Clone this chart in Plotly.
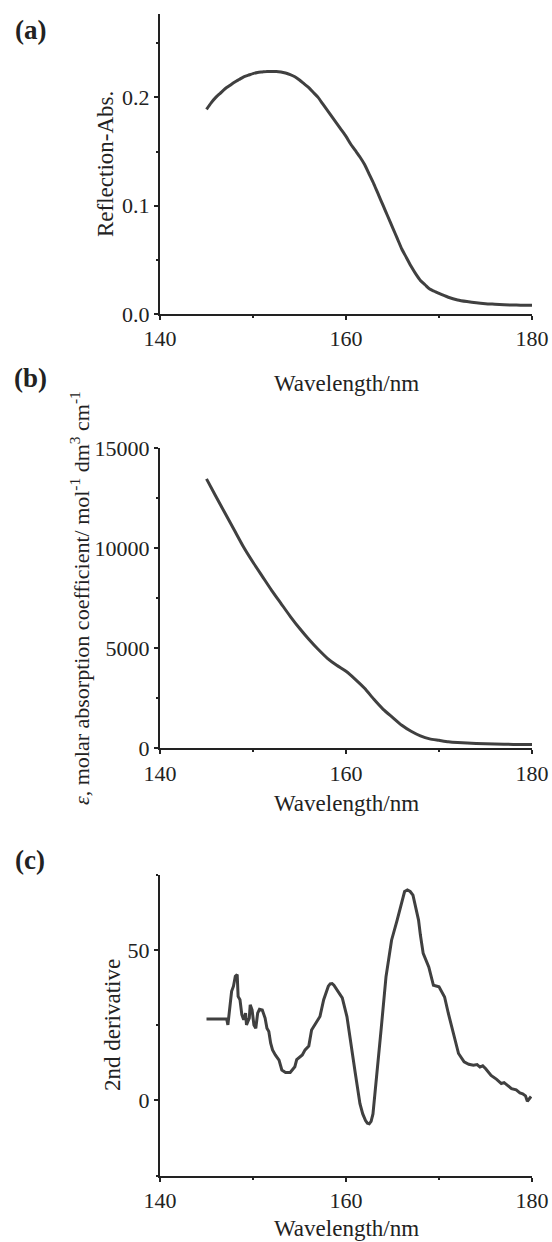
import plotly.graph_objects as go

# ---------------- data ----------------
wl_a = [145.0, 145.5, 146, 146.5, 147, 147.5, 148, 148.5, 149, 149.5, 150, 150.5, 151, 151.5,
        152, 152.5, 153, 153.5, 154, 154.5, 155, 155.5, 156, 156.5, 157, 157.5, 158, 158.5,
        159, 159.5, 160, 160.5, 161, 161.5, 162, 162.5, 163, 163.5, 164, 164.5, 165, 165.5,
        166, 166.5, 167, 167.5, 168, 168.5, 169, 169.5, 170, 171, 172, 173, 174, 175, 176,
        177, 178, 179, 180]
refl_abs = [0.189, 0.195, 0.200, 0.204, 0.208, 0.211, 0.214, 0.2165, 0.219, 0.2205, 0.222,
            0.223, 0.2235, 0.224, 0.224, 0.224, 0.2235, 0.2225, 0.221, 0.219, 0.216, 0.2125,
            0.209, 0.2045, 0.200, 0.194, 0.188, 0.182, 0.176, 0.170, 0.164, 0.157, 0.151,
            0.145, 0.138, 0.129, 0.120, 0.110, 0.100, 0.090, 0.080, 0.070, 0.060, 0.052,
            0.044, 0.037, 0.031, 0.027, 0.023, 0.021, 0.019, 0.0155, 0.013, 0.0115, 0.0103,
            0.0095, 0.009, 0.0085, 0.0083, 0.008, 0.008]

wl_b = [145, 146, 147, 148, 149, 150, 151, 152, 153, 154, 155, 156, 157, 158, 159, 160, 161, 162,
        163, 164, 165, 166, 167, 168, 169, 170, 171, 172, 174, 176, 178, 180]
epsilon = [13470, 12600, 11750, 10900, 10050, 9300, 8600, 7900, 7250, 6600, 6000, 5450, 4950,
           4500, 4150, 3850, 3450, 3000, 2450, 1950, 1550, 1150, 850, 620, 470, 400, 330, 290,
           240, 210, 195, 190]

wl_c = [145.0, 147.17, 147.3, 147.6, 147.7, 147.9, 148.1, 148.3, 148.4, 148.6, 148.8, 149.0,
        149.2, 149.3, 149.6, 149.7, 149.9, 150.1, 150.3, 150.5, 150.7, 151.0, 151.3, 151.5,
        151.7, 151.9, 152.1, 152.4, 152.8, 153.1, 153.5, 154.0, 154.5, 154.7, 155.3, 155.6,
        156.0, 156.3, 156.7, 157.2, 157.6, 158.1, 158.3, 158.5, 158.7, 159.0, 159.6, 160.1,
        160.5, 161.0, 161.5, 161.8, 162.1, 162.3, 162.5, 162.7, 162.9, 163.3, 163.8, 164.3,
        164.9, 165.5, 166.0, 166.3, 166.6, 166.9, 167.2, 167.8, 168.0, 168.3, 168.9, 169.4,
        170.0, 170.6, 171.0, 171.4, 172.1, 172.7, 173.2, 173.7, 174.1, 174.4, 174.7, 175.0,
        175.3, 175.6, 176.2, 176.7, 177.0, 177.5, 177.8, 178.3, 178.7, 179.0, 179.3, 179.5,
        179.7, 179.9]
deriv2 = [27.1, 27.1, 25.1, 33.5, 36.3, 38.0, 41.3, 41.9, 34.6, 33.5, 28.5, 26.8, 29.0, 25.1,
          27.4, 31.8, 30.1, 25.1, 24.0, 29.0, 30.3, 30.1, 27.4, 24.0, 22.9, 19.0, 16.8, 15.1,
          13.4, 10.1, 9.3, 9.3, 11.2, 13.6, 15.1, 16.8, 18.1, 23.4, 25.6, 27.9, 33.5, 38.0,
          38.8, 38.9, 38.3, 36.8, 34.1, 27.9, 19.0, 9.0, -1.1, -4.5, -6.7, -7.6, -7.8, -7.0,
          -4.5, 7.8, 24.4, 41.1, 53.3, 60.0, 66.0, 69.5, 70.0, 69.5, 68.3, 60.0, 55.0, 48.9,
          44.4, 38.3, 37.8, 34.4, 29.0, 24.4, 15.6, 12.8, 12.0, 11.7, 11.9, 11.1, 11.5, 10.6,
          9.5, 8.3, 7.0, 5.6, 5.9, 4.5, 3.9, 3.5, 2.5, 2.2, 1.5, -0.3, 0.5, 1.3]

x_ticks = [140, 160, 180]
panel_labels = ["(a)", "(b)", "(c)"]

# ---------------- layout helpers ----------------
W, H = 552, 1242
def px(x):
    return x / W
def py(y):
    return 1 - y / H

FONT = "Liberation Serif, Times New Roman, serif"
AX = "#222222"
LINE = "#404040"

x_dom = [px(160), px(532)]
y_doms = [[py(314), py(14)], [py(748.3), py(448.3)], [py(1175.5), py(875)]]

fig = go.Figure()
fig.add_trace(go.Scatter(x=wl_a, y=refl_abs, mode="lines",
                         line=dict(color=LINE, width=3, shape="spline", smoothing=0.6),
                         xaxis="x", yaxis="y", showlegend=False))
fig.add_trace(go.Scatter(x=wl_b, y=epsilon, mode="lines",
                         line=dict(color=LINE, width=3, shape="spline", smoothing=0.6),
                         xaxis="x2", yaxis="y2", showlegend=False))
fig.add_trace(go.Scatter(x=wl_c, y=deriv2, mode="lines", line=dict(color=LINE, width=3),
                         xaxis="x3", yaxis="y3", showlegend=False))

def xax(anchor):
    return dict(domain=x_dom, anchor=anchor, range=[140, 180], tickvals=x_ticks,
                ticktext=[str(v) for v in x_ticks], showgrid=False, zeroline=False,
                showline=True, linecolor=AX, linewidth=2, ticks="outside", ticklen=4,
                tickwidth=2, tickcolor=AX, automargin=False,
                tickfont=dict(family=FONT, size=22, color=AX),
                minor=dict(tickvals=[150, 170], ticks="outside", ticklen=2, tickwidth=2,
                           tickcolor=AX, showgrid=False))

def yax(anchor, dom, rng, tickvals, ticktext, minor_vals):
    return dict(domain=dom, anchor=anchor, range=rng, tickvals=tickvals, ticktext=ticktext,
                showgrid=False, zeroline=False, showline=True, linecolor=AX, linewidth=2,
                ticks="outside", ticklen=4, tickwidth=2, tickcolor=AX, automargin=False,
                tickfont=dict(family=FONT, size=22, color=AX),
                minor=dict(tickvals=minor_vals, ticks="outside", ticklen=2, tickwidth=2,
                           tickcolor=AX, showgrid=False))

fig.update_layout(
    width=W, height=H, margin=dict(l=0, r=0, t=0, b=0),
    paper_bgcolor="white", plot_bgcolor="white", template="none", showlegend=False,
    xaxis=xax("y"), xaxis2=xax("y2"), xaxis3=xax("y3"),
    yaxis=yax("x", y_doms[0], [0, 0.277], [0.0, 0.1, 0.2], ["0.0", "0.1", "0.2"],
              [0.05, 0.15, 0.25]),
    yaxis2=yax("x2", y_doms[1], [0, 15000], [0, 5000, 10000, 15000],
               ["0", "5000", "10000", "15000"], [2500, 7500, 12500]),
    yaxis3=yax("x3", y_doms[2], [-25, 75], [0, 50], ["0", "50"], [-25, 25, 75]),
)

annots = []
for lab, yy in zip(panel_labels, [30, 378, 860]):
    annots.append(dict(text="<b>" + lab + "</b>", x=px(30), y=py(yy), xref="paper", yref="paper",
                       showarrow=False, xanchor="center", yanchor="middle",
                       font=dict(family=FONT, size=27, color=AX)))
for yy in [383, 803, 1228]:
    annots.append(dict(text="Wavelength/nm", x=px(346), y=py(yy), xref="paper", yref="paper",
                       showarrow=False, xanchor="center", yanchor="middle",
                       font=dict(family=FONT, size=23, color=AX)))
ytitles = [("Reflection-Abs.", 105, 164, 23),
           ("<i>ε</i>, molar absorption coefficient/ mol<sup>-1</sup> dm<sup>3</sup> cm<sup>-1</sup>", 80, 598, 22),
           ("2nd derivative", 112, 1025, 23)]
for t, xx, yy, fs in ytitles:
    annots.append(dict(text=t, x=px(xx), y=py(yy), xref="paper", yref="paper", textangle=-90,
                       showarrow=False, xanchor="center", yanchor="middle",
                       font=dict(family=FONT, size=fs, color=AX)))
fig.update_layout(annotations=annots)

fig.write_html("out.html")
